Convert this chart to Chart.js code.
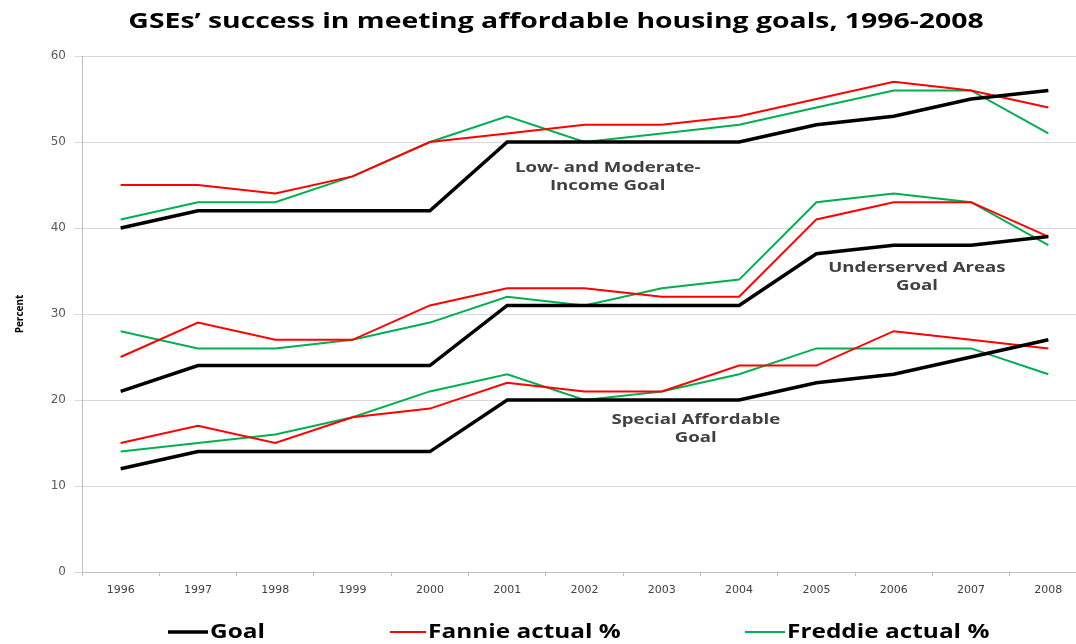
<!DOCTYPE html>
<html>
<head>
<meta charset="utf-8">
<script src="https://cdn.jsdelivr.net/npm/chart.js@4.4.1/dist/chart.umd.min.js"></script>
<style>
  body { margin:0; background:#fff; overflow:hidden; }
  #wrap { width:1090px; height:644px; }
</style>
</head>
<body>
<div id="wrap"><canvas id="goalsChart" width="1090" height="644"></canvas></div>
<script>
const years = ["1996","1997","1998","1999","2000","2001","2002","2003","2004","2005","2006","2007","2008"];

// Low- and moderate-income
const lowModGoal    = [40,42,42,42,42,50,50,50,50,52,53,55,56];
const lowModFannie  = [45,45,44,46,50,51,52,52,53,55,57,56,54];
const lowModFreddie = [41,43,43,46,50,53,50,51,52,54,56,56,51];

// Underserved areas
const underGoal    = [21,24,24,24,24,31,31,31,31,37,38,38,39];
const underFannie  = [25,29,27,27,31,33,33,32,32,41,43,43,39];
const underFreddie = [28,26,26,27,29,32,31,33,34,43,44,43,38];

// Special affordable
const specialGoal    = [12,14,14,14,14,20,20,20,20,22,23,25,27];
const specialFannie  = [15,17,15,18,19,22,21,21,24,24,28,27,26];
const specialFreddie = [14,15,16,18,21,23,20,21,23,26,26,26,23];

const seriesNames = ["Goal","Fannie actual %","Freddie actual %"];
const seriesColors = ["#000000","#ff0000","#00b050"];
const seriesWidths = [3.5,2,2];

const titleText = "GSEs\u2019 success in meeting affordable housing goals, 1996-2008";

// label text, x position (category index), y value
const groupLabels = [
  { lines:["Low- and Moderate-","Income Goal"], x:6.3, y:47 },
  { lines:["Underserved Areas","Goal"], x:10.3, y:35.3 },
  { lines:["Special Affordable","Goal"], x:7.44, y:17.7 }
];

const groups = [
  [lowModGoal, lowModFannie, lowModFreddie],
  [underGoal, underFannie, underFreddie],
  [specialGoal, specialFannie, specialFreddie]
];

const datasets = [];
groups.forEach(g=>{
  g.forEach((vals,i)=>{
    datasets.push({
      label: seriesNames[i],
      data: vals,
      borderColor: seriesColors[i],
      backgroundColor: seriesColors[i],
      borderWidth: seriesWidths[i],
      pointRadius: 0,
      tension: 0,
      fill: false
    });
  });
});

// the source uses a wide font, so text gets stretched sideways
function wideText(ctx, text, x, y, sx){
  ctx.save();
  ctx.translate(x, y);
  ctx.scale(sx, 1);
  ctx.fillText(text, 0, 0);
  ctx.restore();
}

// ===== title =====
const titlePlugin = {
  id: "wideTitle",
  afterDraw(chart){
    const ctx = chart.ctx;
    ctx.save();
    ctx.font = "bold 21px 'Open Sans', sans-serif";
    ctx.fillStyle = "#000";
    ctx.textAlign = "center";
    ctx.textBaseline = "middle";
    wideText(ctx, titleText, 556, 22, 1.35);
    ctx.restore();
  }
};

// ===== group labels inside plot =====
const groupLabelPlugin = {
  id: "groupLabels",
  afterDatasetsDraw(chart){
    const {ctx, scales:{x,y}} = chart;
    ctx.save();
    ctx.font = "bold 14px 'Open Sans', sans-serif";
    ctx.fillStyle = "#404040";
    ctx.textAlign = "center";
    ctx.textBaseline = "middle";
    groupLabels.forEach(l=>{
      const px = x.getPixelForValue(l.x);
      const py = y.getPixelForValue(l.y);
      l.lines.forEach((t,k)=> wideText(ctx, t, px, py + k*18, 1.33));
    });
    ctx.restore();
  }
};

// ===== bottom legend =====
const legendItems = [
  { x:168, lineW:40 },
  { x:390, lineW:36 },
  { x:745, lineW:40 }
];
const bottomLegendPlugin = {
  id: "bottomLegend",
  afterDraw(chart){
    const ctx = chart.ctx;
    const yMid = 632;
    ctx.save();
    ctx.font = "bold 20px 'Open Sans', sans-serif";
    ctx.textBaseline = "middle";
    ctx.textAlign = "left";
    legendItems.forEach((it,i)=>{
      ctx.strokeStyle = seriesColors[i];
      ctx.lineWidth = seriesWidths[i];
      ctx.beginPath();
      ctx.moveTo(it.x, yMid);
      ctx.lineTo(it.x + it.lineW, yMid);
      ctx.stroke();
      ctx.fillStyle = "#000";
      wideText(ctx, seriesNames[i], it.x + it.lineW + 2, yMid, 1.22);
    });
    ctx.restore();
  }
};

new Chart(document.getElementById("goalsChart"), {
  type: "line",
  data: { labels: years, datasets: datasets },
  options: {
    responsive: false,
    animation: false,
    layout: { padding: { left:0, right:3, top:56, bottom:0 } },
    plugins: {
      legend: { display:false },
      tooltip: { enabled:false },
      title: { display:false }
    },
    scales: {
      x: {
        offset: true,
        grid: { display:true, offset:true, drawOnChartArea:false, drawTicks:true, tickLength:4, color:"#bfbfbf" },
        border: { color:"#bfbfbf" },
        ticks: { color:"#404040", font:{ family:"'DejaVu Sans', sans-serif", size:11 }, padding:8, maxRotation:0, autoSkip:false },
        afterFit(scale){ scale.height = 72; }
      },
      y: {
        min: 0, max: 60,
        ticks: { stepSize:10, color:"#595959", font:{ family:"'DejaVu Sans', sans-serif", size:12 }, padding:8 },
        grid: { color:"#d9d9d9", tickLength:8 },
        border: { color:"#bfbfbf" },
        title: { display:true, text:"Percent", color:"#000", font:{ family:"'Open Sans', sans-serif", size:10, weight:"bold" }, padding:{ top:14, bottom:0 } },
        afterFit(scale){ scale.width = 82; }
      }
    }
  },
  plugins: [groupLabelPlugin, titlePlugin, bottomLegendPlugin]
});
</script>
</body>
</html>
